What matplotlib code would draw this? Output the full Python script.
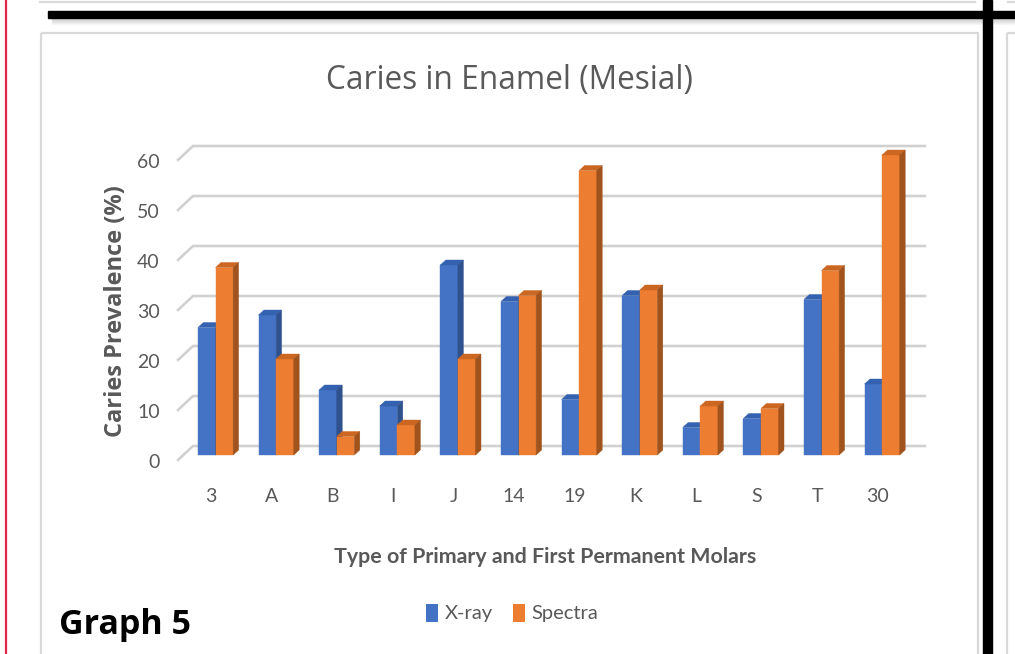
import matplotlib
matplotlib.use("Agg")
import matplotlib.pyplot as plt
from matplotlib.patches import Polygon, Rectangle, Patch

# molar types and caries prevalence (%) per detection method
categories = ['3', 'A', 'B', 'I', 'J', '14', '19', 'K', 'L', 'S', 'T', '30']
xray = [25.5, 28.0, 13.0, 9.8, 38.0, 30.7, 11.1, 31.9, 5.5, 7.3, 31.1, 14.2]
spectra = [37.5, 19.2, 3.7, 6.0, 19.2, 31.9, 56.9, 33.0, 9.8, 9.3, 36.9, 60.0]
yticks = [0, 10, 20, 30, 40, 50, 60]

W, H = 1015, 654
GRAY = '#595959'
FONT = 'Lato'

fig = plt.figure(figsize=(W / 100, H / 100), dpi=100)
fig.patch.set_facecolor('white')

# page furniture around the chart (pixel coordinates)
page = fig.add_axes([0, 0, 1, 1])
page.set_xlim(0, W)
page.set_ylim(H, 0)
page.axis('off')
page.plot([6.5, 6.5], [0, H], color='#e2264b', lw=1.6)
page.add_patch(Rectangle((41, 33), 937, 660, fill=False, ec='#d9d9d9', lw=1.6))
page.add_patch(Rectangle((1007, 33), 60, 660, fill=False, ec='#d9d9d9', lw=1.6))
page.plot([40, 975], [1.5, 1.5], color='#d9d9d9', lw=1.6)
page.plot([1008, W], [1.5, 1.5], color='#d9d9d9', lw=1.6)
for k in range(6):
    page.plot([52, W], [18.5 + k, 18.5 + k], color='black', alpha=0.16 - 0.025 * k, lw=0.8)
page.add_patch(Rectangle((48, 10.5), W - 48, 7, color='black'))
page.add_patch(Rectangle((983, 0), 9, H, color='black'))

# chart area: x in category units, y in percent (front plane)
px_x, px_v = 60.6, 5.0
x_lo, x_hi = (178 - 211) / px_x, (925 - 211) / px_x
ax = fig.add_axes([178 / W, 1 - 460 / H, (925 - 178) / W, 300 / H])
ax.set_xlim(x_lo, x_hi)
ax.set_ylim(0, 60)
ax.axis('off')

# back wall gridlines with the short diagonal to the floor edge
wall_dx, wall_dv = 15 / px_x, 14 / px_v
for v in yticks:
    ax.plot([x_lo, x_lo + wall_dx, x_hi], [v, v + wall_dv, v + wall_dv],
            color='#d9d9d9', lw=2.0, clip_on=False, solid_joinstyle='miter', zorder=1)
    ax.plot([x_lo, x_lo + wall_dx, x_hi], [v, v + wall_dv, v + wall_dv],
            color='#c8c8c8', lw=0.6, clip_on=False, zorder=1)
    ax.text(x_lo - 0.3, v - 0.4, str(v), ha='right', va='center',
            fontsize=14, color=GRAY, family=FONT)

bar_w = 17.6 / px_x
shift_dx, base_v = 4.5 / px_x, 1.0
side_dx, side_dv = 5.5 / px_x, 1.0


def bar3d(x0, val, front, top, side):
    x1 = x0 + bar_w
    b, t = base_v, base_v + val
    faces = [
        ([(x0, b), (x1, b), (x1, t), (x0, t)], front),
        ([(x0, t), (x1, t), (x1 + side_dx, t + side_dv), (x0 + side_dx, t + side_dv)], top),
        ([(x1, b), (x1 + side_dx, b + side_dv), (x1 + side_dx, t + side_dv), (x1, t)], side),
    ]
    for pts, c in faces:
        ax.add_patch(Polygon(pts, closed=True, fc=c, ec=c, lw=0.3, clip_on=False, zorder=3))


blue = ('#4472c4', '#3461b0', '#2f528f')
orange = ('#ed7d31', '#cc6722', '#a0531c')
for i, cat in enumerate(categories):
    bar3d(i + shift_dx - bar_w, xray[i], *blue)
    bar3d(i + shift_dx, spectra[i], *orange)
    ax.text(i, -7.4, cat, ha='center', va='center', fontsize=14, color=GRAY, family=FONT)

fig.text(509 / W, 1 - 81 / H, 'Caries in Enamel (Mesial)', ha='center', va='center',
         fontsize=22.8, color=GRAY, family='Open Sans')
fig.text(116 / W, 1 - 311 / H, 'Caries Prevalence (%)', ha='center', va='center',
         rotation=90, fontsize=17, color=GRAY, family='Open Sans', weight='bold')
fig.text(545 / W, 1 - 557 / H, 'Type of Primary and First Permanent Molars', ha='center',
         va='center', fontsize=15.4, color=GRAY, family=FONT, weight='bold')
fig.text(59 / W, 1 - 634 / H, 'Graph 5', ha='left', va='baseline',
         fontsize=24.5, color='black', family='Open Sans', weight='bold')

handles = [Patch(fc=blue[0], ec='none', label='X-ray'),
           Patch(fc=orange[0], ec='none', label='Spectra')]
fig.legend(handles=handles, loc='center', bbox_to_anchor=(512 / W, 1 - 613 / H), ncol=2,
           frameon=False, handlelength=0.6, handleheight=1.0, handletextpad=0.3,
           columnspacing=1.0, prop={'family': FONT, 'size': 14.5}, labelcolor=GRAY)

fig.savefig('out.png', dpi=100)
